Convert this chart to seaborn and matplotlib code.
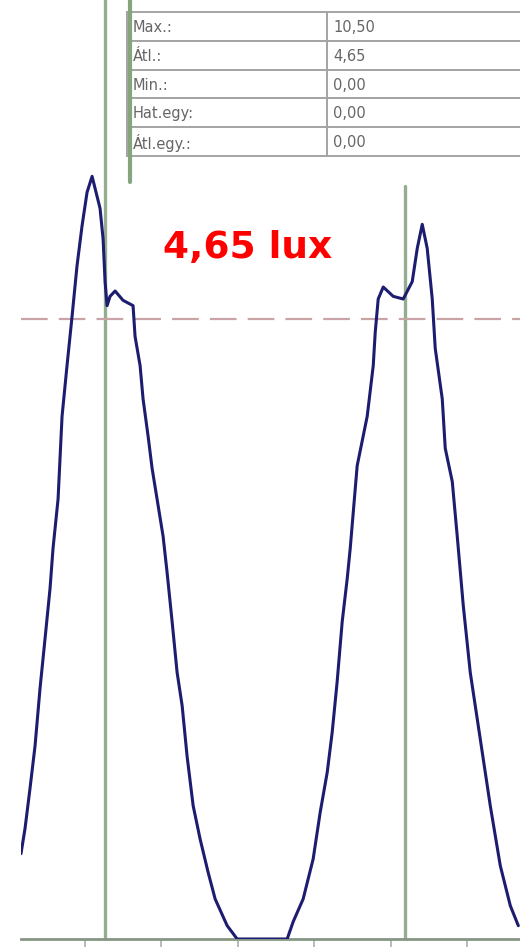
import matplotlib
matplotlib.use("Agg")
import matplotlib.pyplot as plt
import seaborn as sns
import pandas as pd

# Illuminance trace (time in scale units, illuminance in lux)
time_pts = [0.162, 0.215, 0.280, 0.346, 0.411, 0.476, 0.542, 0.581, 0.647, 0.699,
            0.764, 0.830, 0.895, 0.961, 1.026, 1.092, 1.196, 1.236, 1.262, 1.288,
            1.327, 1.393, 1.497, 1.628, 1.654, 1.720, 1.759, 1.825, 1.877, 1.942,
            2.021, 2.073, 2.139, 2.204, 2.270, 2.335, 2.414, 2.505, 2.610, 2.702,
            2.859, 2.990, 3.644, 3.723, 3.853, 3.984, 4.076, 4.168, 4.233, 4.298,
            4.364, 4.429, 4.469, 4.560, 4.691, 4.770, 4.796, 4.835, 4.901, 5.031,
            5.162, 5.280, 5.346, 5.411, 5.476, 5.542, 5.581, 5.673, 5.712, 5.804,
            5.869, 5.948, 6.039, 6.170, 6.301, 6.432, 6.563, 6.668]
lux = [0.64, 0.83, 1.13, 1.45, 1.88, 2.25, 2.63, 2.93, 3.30, 3.92,
       4.30, 4.67, 5.05, 5.35, 5.60, 5.72, 5.48, 5.25, 4.93, 4.75,
       4.82, 4.86, 4.79, 4.75, 4.52, 4.30, 4.05, 3.77, 3.53, 3.30,
       3.02, 2.75, 2.38, 2.00, 1.75, 1.37, 1.00, 0.75, 0.50, 0.30,
       0.10, 0.00, 0.00, 0.13, 0.30, 0.60, 0.95, 1.25, 1.55, 1.93,
       2.38, 2.70, 2.93, 3.55, 3.92, 4.30, 4.55, 4.80, 4.89, 4.82,
       4.80, 4.93, 5.18, 5.36, 5.18, 4.80, 4.43, 4.05, 3.68, 3.43,
       3.02, 2.50, 2.00, 1.50, 1.00, 0.55, 0.25, 0.10]

avg_lux = 4.65
cursor_x = [1.26, 5.19]
tick_pos = [1, 2, 3, 4, 5, 6]

stat_labels = ["Max.:", "Átl.:", "Min.:", "Hat.egy:", "Átl.egy.:"]
stat_values = ["10,50", "4,65", "0,00", "0,00", "0,00"]

sns.set_theme(style="white")
plt.rcParams["font.family"] = ["DejaVu Sans"]

W, H = 520, 953
fig = plt.figure(figsize=(W / 100, H / 100), dpi=100)
fig.patch.set_facecolor("white")
ax = fig.add_axes([21 / W, 13 / H, 499 / W, 940 / H])
ax.set_facecolor("white")

df = pd.DataFrame({"t": time_pts, "lux": lux})

green = "#94ad8f"
# cursor lines
ax.axvline(cursor_x[0], color=green, lw=2.4, zorder=1)
ax.axvline(cursor_x[1], color=green, lw=2.4, ymax=0.801, zorder=1)

# average level
ax.axhline(avg_lux, color="#c9a3a6", lw=1.6, dashes=(12, 5), zorder=1.5)

sns.lineplot(data=df, x="t", y="lux", ax=ax, color="#1c1c70", lw=2.2,
             sort=False, zorder=3, legend=False)

ax.set_xlim(0.162, 6.69)
ax.set_ylim(0, 7.05)
ax.set_xlabel("")
ax.set_ylabel("")
ax.set_xticks(tick_pos)
ax.set_xticklabels([])
ax.set_yticks([])
ax.tick_params(axis="x", direction="out", length=6, width=1.4,
               color="#b3c0b0", bottom=True)
for s in ["left", "right", "top"]:
    ax.spines[s].set_visible(False)
ax.spines["bottom"].set_color("#869684")
ax.spines["bottom"].set_linewidth(2.0)

# statistics panel
tbl = ax.table(cellText=[[l, v] for l, v in zip(stat_labels, stat_values)],
               colWidths=[0.5, 0.5], cellLoc="left",
               bbox=[(127 - 21) / 499, (940 - 157) / 940, 400 / 499, 144 / 940])
tbl.auto_set_font_size(False)
tbl.set_fontsize(10.5)
for (r, c), cell in tbl.get_celld().items():
    cell.set_edgecolor("#a4a4a4")
    cell.set_linewidth(1.4)
    cell.set_facecolor("white")
    cell.get_text().set_color("#666666")
    cell.PAD = 0.03
    cell.set_clip_on(False)
# left border of the panel
ax.axvline(1.589, ymin=(940 - 183) / 940, ymax=1.0, color="#86a47e", lw=3.0,
           zorder=5, clip_on=False)

ax.text(0.455, 0.736, "4,65 lux", transform=ax.transAxes, ha="center",
        va="center", color="#ff0000", fontsize=27, fontweight="bold")

fig.savefig("out.png", dpi=100, facecolor="white")
